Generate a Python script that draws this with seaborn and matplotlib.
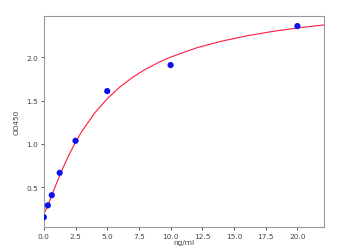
import matplotlib
matplotlib.use("Agg")
import matplotlib.pyplot as plt
import seaborn as sns
import pandas as pd

# measured standards
conc = [0, 0.3125, 0.625, 1.25, 2.5, 5, 10, 20]
od = [0.153, 0.29, 0.407, 0.666, 1.036, 1.611, 1.912, 2.363]

# fitted curve
curve_x = [0, 0.25, 0.5, 0.75, 1, 1.5, 2, 2.5, 3, 4, 5, 6, 7, 8, 9, 10, 12, 14, 16, 18, 20, 22.1]
curve_y = [0.19, 0.266, 0.358, 0.452, 0.545, 0.720, 0.879, 1.02, 1.146, 1.356, 1.524, 1.659,
           1.770, 1.862, 1.939, 2.004, 2.109, 2.188, 2.250, 2.300, 2.341, 2.376]

xticks = [0, 2.5, 5, 7.5, 10, 12.5, 15, 17.5, 20]
yticks = [0.5, 1.0, 1.5, 2.0]

sns.set_style("white")
fig = plt.figure(figsize=(3.48, 2.53), dpi=100)
ax = fig.add_axes([0.126, 0.099, 0.805, 0.834])

sns.lineplot(x=curve_x, y=curve_y, ax=ax, color="#ff1a3c", linewidth=0.8, sort=True)
sns.scatterplot(x=conc, y=od, ax=ax, color="#1010ee", s=20, edgecolor="none", zorder=3)

ax.set_xlim(0, 22.1)
ax.set_ylim(0.04, 2.48)
ax.set_xticks(xticks)
ax.set_xticklabels([f"{v:.1f}" for v in xticks])
ax.set_yticks(yticks)
ax.set_yticklabels([f"{v:.1f}" for v in yticks])
ax.tick_params(axis="both", labelsize=5.3, colors="#444444", length=2, width=0.6,
               direction="out", bottom=True, left=True, pad=2)
for s in ax.spines.values():
    s.set_color("#999999")
    s.set_linewidth(0.8)
ax.set_xlabel("ng/ml", fontsize=5.3, color="#444444", labelpad=0.5)
ax.set_ylabel("OD450", fontsize=5.3, color="#444444", labelpad=5)

fig.savefig("out.png", dpi=100)
